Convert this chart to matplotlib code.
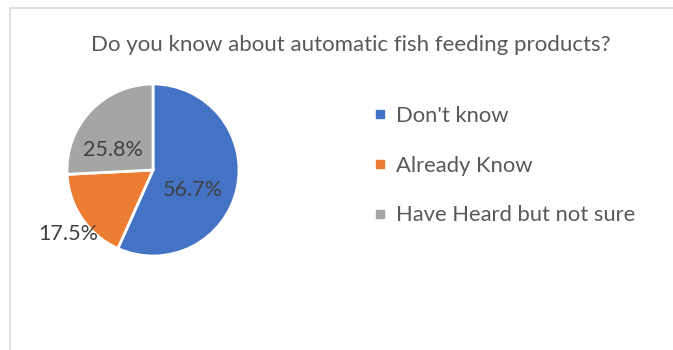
import matplotlib
matplotlib.use("Agg")
import matplotlib.pyplot as plt
from matplotlib.patches import Rectangle
from matplotlib.lines import Line2D

plt.rcParams['font.family'] = ['Lato', 'DejaVu Sans']

TITLE = "Do you know about automatic fish feeding products?"
CATEGORIES = ["Don't know", "Already Know", "Have Heard but not sure"]
SHARES = [56.7, 17.5, 25.8]
COLORS = ["#4472C4", "#ED7D31", "#A5A5A5"]
# label positions (data units, pie radius = 1)
LABEL_POS = [(0.46, -0.23), (-0.98, -0.74), (-0.47, 0.23)]

W, H = 673, 350
fig = plt.figure(figsize=(W / 100, H / 100), dpi=100)

# chart frame
fig.patches.append(Rectangle((10 / W, -0.1), 1.2, (H - 8) / H + 0.1,
                             transform=fig.transFigure, fill=False,
                             edgecolor="#d9d9d9", linewidth=1.2))

fig.text(351 / W, 1 - 45 / H, TITLE, ha="center", va="center",
         fontsize=16, color="#595959")

cx, cy, r = 153, 170, 86
ax = fig.add_axes([(cx - r) / W, 1 - (cy + r) / H, 2 * r / W, 2 * r / H])
wedges, _, autotexts = ax.pie(
    SHARES, colors=COLORS, startangle=90, counterclock=False,
    autopct="%.1f%%", radius=1,
    wedgeprops=dict(edgecolor="white", linewidth=2),
    textprops=dict(fontsize=15.5, color="#404040"))
for t, pos in zip(autotexts, LABEL_POS):
    t.set_position(pos)
ax.set_xlim(-1, 1)
ax.set_ylim(-1, 1)
ax.set_aspect("equal")
ax.axis("off")

handles = [Line2D([], [], marker="s", linestyle="none", markersize=6,
                  markerfacecolor=c, markeredgecolor=c) for c in COLORS]
fig.legend(handles, CATEGORIES, loc="upper left",
           bbox_to_anchor=(365 / W, 1 - 97 / H), frameon=False,
           fontsize=15.8, labelcolor="#595959", handlelength=0.6,
           handletextpad=0.4, labelspacing=1.36, borderaxespad=0)

fig.savefig("out.png", dpi=100)
